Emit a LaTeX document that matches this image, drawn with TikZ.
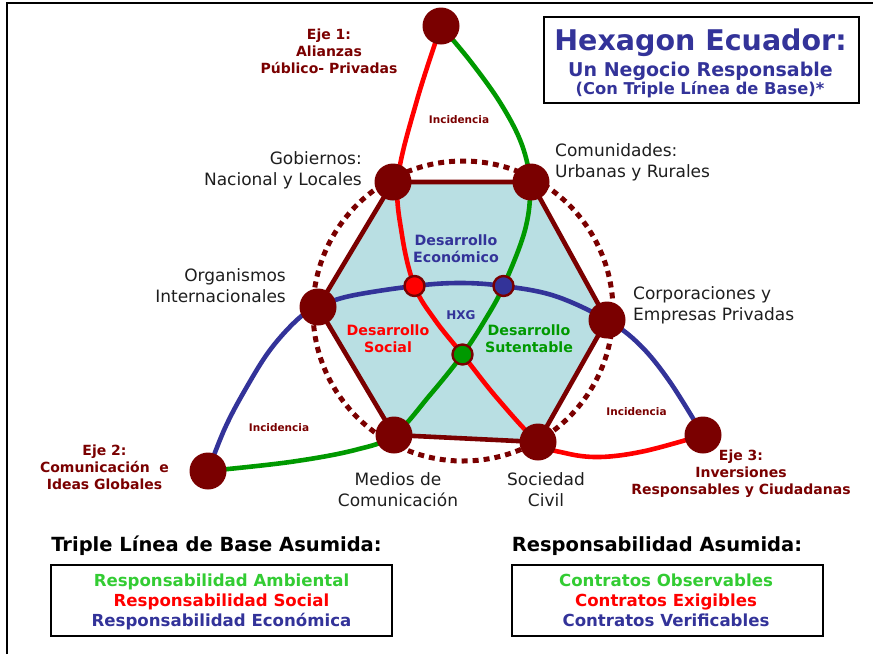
\documentclass[tikz,border=0pt]{standalone}
\usepackage{fontspec}
\setmainfont{DejaVu Sans}
\usetikzlibrary{backgrounds}
\definecolor{dred}{HTML}{7A0000}
\definecolor{eblue}{HTML}{333399}
\definecolor{cgreen}{HTML}{009900}
\definecolor{lgreen}{HTML}{33CC33}
\definecolor{hexfill}{HTML}{B9DFE3}
\definecolor{cred}{HTML}{FF0000}
\definecolor{txt}{HTML}{1E1E1E}
\tikzset{
  bignode/.style={circle, fill=dred, inner sep=0pt, minimum size=37},
  smalldot/.style={circle, draw=dred, line width=2.4, inner sep=0pt, minimum size=20},
  curve/.style={line width=4.6, line cap=round},
  hexedge/.style={draw=dred, line width=4.6, line join=round},
  ejelab/.style={text=dred, font=\bfseries\fontsize{14}{17}\selectfont, align=center, inner sep=0pt},
  stdlab/.style={text=txt, font=\fontsize{17}{21}\selectfont, inner sep=0pt},
  inclab/.style={text=dred, font=\bfseries\fontsize{10.5}{12}\selectfont, inner sep=0pt},
  devlab/.style={font=\bfseries\fontsize{14.2}{17}\selectfont, align=center, inner sep=0pt},
  headlab/.style={text=black, font=\bfseries\fontsize{19.5}{22}\selectfont, inner sep=0pt},
  legbox/.style={draw=black, line width=2, inner sep=0pt},
  legtext/.style={font=\bfseries\fontsize{16.6}{20}\selectfont, align=center, inner sep=0pt, anchor=base},
}
\begin{document}
\begin{tikzpicture}[x=1pt,y=-1pt]
\useasboundingbox (0,0) rectangle (873,654);
% frame
\coordinate (fbl) at (7,654);
\coordinate (ftl) at (7,3);
\coordinate (ftr) at (873,3);
\draw[line width=2.5, line join=miter] (fbl) -- (ftl) -- (ftr);

% main nodes
\node[bignode] (top) at (441,26) {};
\node[bignode] (gob) at (393,182) {};
\node[bignode] (com) at (531,182) {};
\node[bignode] (org) at (318,307) {};
\node[bignode] (corp) at (607,320) {};
\node[bignode] (med) at (394,435) {};
\node[bignode] (soc) at (538,442) {};
\node[bignode] (e2) at (208,471) {};
\node[bignode] (e3) at (703,435) {};
\node[smalldot, fill=cred] (rdot) at (414.5,286) {};
\node[smalldot, fill=eblue] (bdot) at (503.5,286) {};
\node[smalldot, fill=cgreen] (gdot) at (462.5,354.5) {};
\coordinate (cc) at (463,311);

\begin{scope}[on background layer]
  \fill[hexfill] (gob.center) -- (com.center) -- (corp.center) -- (soc.center) -- (med.center) -- (org.center) -- cycle;
  \draw[dred, line width=5, dash pattern=on 6 off 5] (cc) circle[radius=150];
  \draw[hexedge] (gob.center) -- (com.center) -- (corp.center) -- (soc.center) -- (med.center) -- (org.center) -- cycle;
  % red curve
  \draw[curve, cred] plot[smooth, tension=0.6] coordinates {(top.center) (417,100) (398,178) (402,235) (rdot.center) (435,320) (gdot.center) (497,398) (soc.center) (565,453) (600,457) (645,451) (e3.center)};
  % green curve
  \draw[curve, cgreen] plot[smooth, tension=0.6] coordinates {(top.center) (471,62) (501,104) (522,145) (530,185) (525,230) (bdot.center) (485,320) (gdot.center) (430,395) (med.center) (355,450) (290,462) (e2.center)};
  % blue curve
  \draw[curve, eblue] plot[smooth, tension=0.6] coordinates {(e2.center) (225,428) (245,390) (270,350) (298,319) (org.center) (350,296) (rdot.center) (460,283) (bdot.center) (555,296) (corp.center) (640,345) (670,382) (e3.center)};
\end{scope}

% labels
\node[ejelab] (l1) at (329,51) {Eje 1:\\Alianzas\\Público- Privadas};
\node[ejelab] (l2) at (104.5,467) {Eje 2:\\Comunicación\ \ e\\Ideas Globales};
\node[ejelab] (l3) at (741,474) {Eje 3:\\Inversiones\\Responsables y Ciudadanas};
\node[inclab] (i1) at (459,120) {Incidencia};
\node[inclab] (i2) at (279,428) {Incidencia};
\node[inclab] (i3) at (636.5,412) {Incidencia};
\node[stdlab, align=right, anchor=east] (lgob) at (362,170) {Gobiernos:\\Nacional y Locales};
\node[stdlab, align=right, anchor=east] (lorg) at (286,286) {Organismos\\Internacionales};
\node[stdlab, align=left, anchor=west] (lcom) at (555,162) {Comunidades:\\Urbanas y Rurales};
\node[stdlab, align=left, anchor=west] (lcorp) at (633,305) {Corporaciones y\\Empresas Privadas};
\node[stdlab, align=center] (lmed) at (398,490) {Medios de\\Comunicación};
\node[stdlab, align=center] (lsoc) at (546,490) {Sociedad\\Civil};
\node[devlab, text=eblue] (dE) at (456,249) {Desarrollo\\Económico};
\node[devlab, text=cred] (dS) at (388,339) {Desarrollo\\Social};
\node[devlab, text=cgreen] (dT) at (529,339) {Desarrollo\\Sutentable};
\node[text=eblue, font=\bfseries\fontsize{12}{14}\selectfont, inner sep=0pt] (hxg) at (461,315) {HXG};

% title box
\node[draw=black, line width=2, minimum width=315, minimum height=86, inner sep=0pt] (tbox) at (701.5,60) {};
\node[text=eblue, font=\bfseries\fontsize{28.5}{30}\selectfont, anchor=base, inner sep=0pt] (t1) at (700.5,50.7) {Hexagon Ecuador:};
\node[text=eblue, font=\bfseries\fontsize{19}{22}\selectfont, anchor=base, inner sep=0pt] (t2) at (700.5,76.7) {Un Negocio Responsable};
\node[text=eblue, font=\bfseries\fontsize{16.3}{18}\selectfont, anchor=base, inner sep=0pt] (t3) at (700,94.5) {(Con Triple Línea de Base)*};

% bottom
\node[headlab] (h1) at (216.5,546) {Triple Línea de Base Asumida:};
\node[headlab] (h2) at (657,546) {Responsabilidad Asumida:};
\node[legbox, minimum width=341, minimum height=71] (b1) at (221.5,600.5) {};
\node[legtext] (b1t) at (221.5,626) {\textcolor{lgreen}{Responsabilidad Ambiental}\\\textcolor{cred}{Responsabilidad Social}\\\textcolor{eblue}{Responsabilidad Económica}};
\node[legbox, minimum width=311, minimum height=71] (b2) at (667.5,600.5) {};
\node[legtext] (b2t) at (666,626) {\textcolor{lgreen}{Contratos Observables}\\\textcolor{cred}{Contratos Exigibles}\\\textcolor{eblue}{Contratos Verificables}};
\end{tikzpicture}
\end{document}
